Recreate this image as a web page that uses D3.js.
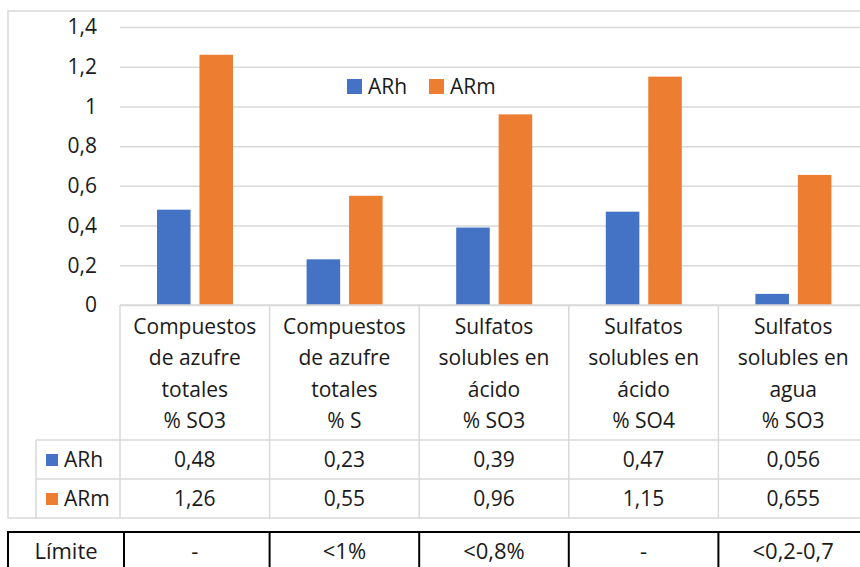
<!DOCTYPE html>
<html>
<head>
<meta charset="utf-8">
<script src="https://cdn.jsdelivr.net/npm/d3@7"></script>
<style>
  html, body { margin: 0; padding: 0; background: #ffffff; }
  svg { display: block; }
  text { font-family: "Open Sans", "Noto Sans", sans-serif; fill: #1a1a1a; }
</style>
</head>
<body>
<svg id="chart" width="860" height="567"></svg>
<script>
// Categories (multi-line header labels)
const categories = [
  ["Compuestos", "de azufre", "totales", "% SO3"],
  ["Compuestos", "de azufre", "totales", "% S"],
  ["Sulfatos", "solubles en", "ácido", "% SO3"],
  ["Sulfatos", "solubles en", "ácido", "% SO4"],
  ["Sulfatos", "solubles en", "agua", "% SO3"]
];
const seriesNames = ["ARh", "ARm"];
const arhValues = [0.48, 0.23, 0.39, 0.47, 0.056];
const armValues = [1.26, 0.55, 0.96, 1.15, 0.655];
const limits = ["-", "<1%", "<0,8%", "-", "<0,2-0,7"];
const limitLabel = "Límite";
const yTicks = [0, 0.2, 0.4, 0.6, 0.8, 1, 1.2, 1.4];
const colors = { ARh: "#4472C4", ARm: "#ED7D31" };

const series = [
  { name: "ARh", values: arhValues },
  { name: "ARm", values: armValues }
];

const locale = d3.formatLocale({ decimal: ",", thousands: ".", grouping: [3], currency: ["", " €"] });
const fmtTick = locale.format(".2~f");
const fmtVal = locale.format(".3~g");

const svg = d3.select("#chart");
const gridColor = "#d9d9d9";

// Layout
const frame = { left: 8, top: 11, bottom: 518 };
const plot = { left: 120, right: 868, top: 27, bottom: 305 };
const headerBottom = 440;
const rowH = 39;
const keyLeft = 36;

const x = d3.scaleBand()
  .domain(d3.range(categories.length))
  .range([plot.left, plot.right])
  .paddingInner(0).paddingOuter(0);

const xs = d3.scaleBand()
  .domain(seriesNames)
  .range([37, 113])
  .paddingInner(0.21);

const y = d3.scaleLinear().domain([0, 1.4]).range([plot.bottom, plot.top]);

// Outer chart frame
svg.append("rect")
  .attr("x", frame.left).attr("y", frame.top)
  .attr("width", 1000).attr("height", frame.bottom - frame.top)
  .attr("fill", "none").attr("stroke", gridColor).attr("stroke-width", 1.5);

// Gridlines + y tick labels
const yAxis = d3.axisLeft(y).tickValues(yTicks).tickFormat(fmtTick)
  .tickSize(-(plot.right - plot.left)).tickPadding(23);
const gy = svg.append("g").attr("transform", `translate(${plot.left},0)`).call(yAxis);
gy.select(".domain").remove();
gy.selectAll(".tick line").attr("stroke", gridColor).attr("stroke-width", 1.5);
gy.selectAll(".tick text")
  .attr("font-family", "'Open Sans', sans-serif")
  .attr("font-size", 21).attr("fill", "#1a1a1a");

// Bars
const groups = svg.append("g").selectAll("g")
  .data(series).join("g")
  .attr("fill", d => colors[d.name]);
groups.selectAll("rect")
  .data(d => d.values.map((v, i) => ({ name: d.name, v, i })))
  .join("rect")
  .attr("x", d => x(d.i) + xs(d.name))
  .attr("y", d => y(d.v))
  .attr("width", xs.bandwidth())
  .attr("height", d => y(0) - y(d.v));

// Legend
const legend = svg.append("g").attr("transform", "translate(347,79)");
const legendItems = [{ name: "ARh", dx: 0 }, { name: "ARm", dx: 82 }];
legendItems.forEach(it => {
  legend.append("rect").attr("x", it.dx).attr("y", 0).attr("width", 15).attr("height", 15)
    .attr("fill", colors[it.name]);
  legend.append("text").attr("x", it.dx + 21).attr("y", 14.5)
    .attr("font-size", 21).text(it.name);
});

// Data table lines
const table = svg.append("g").attr("stroke", gridColor).attr("stroke-width", 1.5);
table.append("line").attr("x1", plot.left).attr("x2", 1000).attr("y1", plot.bottom).attr("y2", plot.bottom);
table.append("line").attr("x1", keyLeft).attr("x2", 1000).attr("y1", headerBottom).attr("y2", headerBottom);
table.append("line").attr("x1", keyLeft).attr("x2", 1000).attr("y1", headerBottom + rowH).attr("y2", headerBottom + rowH);
table.append("line").attr("x1", keyLeft).attr("x2", keyLeft).attr("y1", headerBottom).attr("y2", frame.bottom);
d3.range(categories.length + 1).forEach(i => {
  const xx = plot.left + i * x.step();
  table.append("line").attr("x1", xx).attr("x2", xx).attr("y1", plot.bottom).attr("y2", frame.bottom);
});

// Header labels
const header = svg.append("g").attr("text-anchor", "middle").attr("font-size", 21);
categories.forEach((lines, i) => {
  const t = header.append("text").attr("x", x(i) + x.bandwidth() / 2);
  lines.forEach((ln, k) => {
    t.append("tspan").attr("x", x(i) + x.bandwidth() / 2).attr("y", 334 + k * 31.3).text(ln);
  });
});

// Value rows
series.forEach((s, r) => {
  const base = headerBottom + r * rowH;
  svg.append("rect").attr("x", 46).attr("y", base + 14).attr("width", 12).attr("height", 12)
    .attr("fill", colors[s.name]);
  svg.append("text").attr("x", 64).attr("y", base + 27).attr("font-size", 21).text(s.name);
  svg.append("g").attr("text-anchor", "middle").attr("font-size", 21)
    .selectAll("text").data(s.values).join("text")
    .attr("x", (d, i) => x(i) + x.bandwidth() / 2)
    .attr("y", base + 27)
    .text(d => fmtVal(d));
});

// Limits table
const lim = svg.append("g");
const limTop = 532;
const limBase = 559;
const limFont = 22;
lim.append("rect").attr("x", frame.left).attr("y", limTop).attr("width", 1000).attr("height", 80)
  .attr("fill", "none").attr("stroke", "#000").attr("stroke-width", 2);
d3.range(categories.length).forEach(i => {
  const xx = plot.left + i * x.step() + (i === 0 ? 4 : 0);
  lim.append("line").attr("x1", xx).attr("x2", xx).attr("y1", limTop).attr("y2", 600)
    .attr("stroke", "#000").attr("stroke-width", 2);
});
lim.append("text").attr("x", (frame.left + plot.left + 4) / 2).attr("y", limBase)
  .attr("text-anchor", "middle").attr("font-size", limFont).text(limitLabel);
lim.selectAll("text.lv").data(limits).join("text").attr("class", "lv")
  .attr("x", (d, i) => x(i) + x.bandwidth() / 2).attr("y", limBase)
  .attr("text-anchor", "middle").attr("font-size", limFont).text(d => d);
</script>
</body>
</html>
